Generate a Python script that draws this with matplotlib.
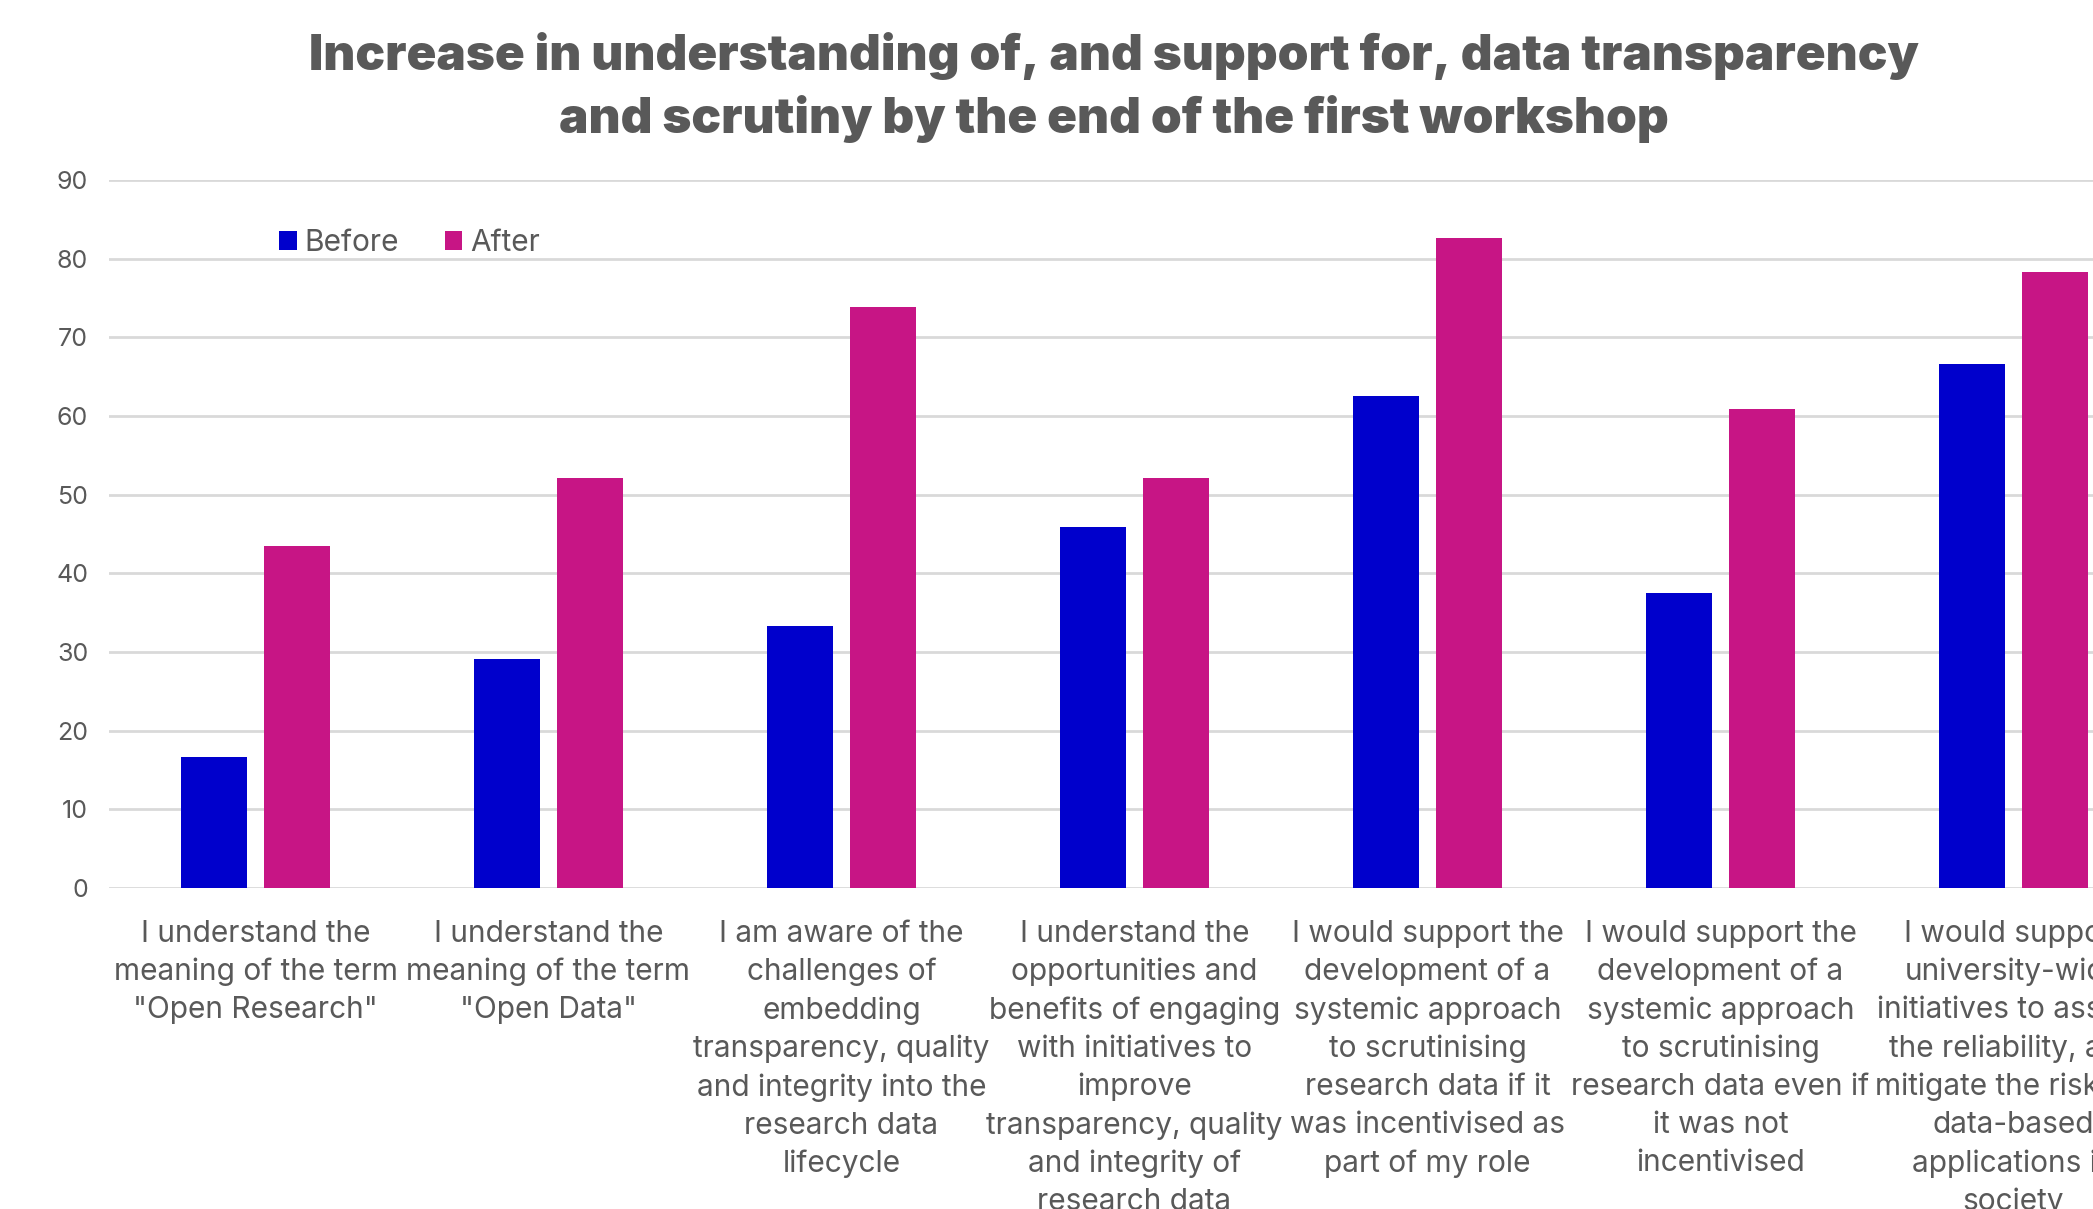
import matplotlib.pyplot as plt
import numpy as np

# chart data
categories = [
    'I understand the\nmeaning of the term\n"Open Research"',
    'I understand the\nmeaning of the term\n"Open Data"',
    'I am aware of the\nchallenges of\nembedding\ntransparency, quality\nand integrity into the\nresearch data\nlifecycle',
    'I understand the\nopportunities and\nbenefits of engaging\nwith initiatives to\nimprove\ntransparency, quality\nand integrity of\nresearch data',
    'I would support the\ndevelopment of a\nsystemic approach\nto scrutinising\nresearch data if it\nwas incentivised as\npart of my role',
    'I would support the\ndevelopment of a\nsystemic approach\nto scrutinising\nresearch data even if\nit was not\nincentivised',
    'I would support\nuniversity-wide\ninitiatives to assess\nthe reliability, and\nmitigate the risks of\ndata-based\napplications in\nsociety',
]
before = [16.67, 29.17, 33.33, 45.83, 62.5, 37.5, 66.67]
after = [43.48, 52.17, 73.91, 52.17, 82.61, 60.87, 78.26]
yticks = [0, 10, 20, 30, 40, 50, 60, 70, 80, 90]

BLUE = '#0000CC'
PINK = '#C71585'
GREY = '#595959'
FONT = ['Inter', 'DejaVu Sans']

plt.rcParams['font.family'] = FONT

W, H = 2093, 1209
fig = plt.figure(figsize=(W / 100, H / 100), dpi=100)
# axes run past the right edge of the picture, as in the cropped original
ax = fig.add_axes([109 / W, 1 - 888 / H, 7 * 293 / W, (888 - 180) / H])

x = np.arange(len(categories))
bw = 0.225
ax.bar(x - 0.1416, before, bw, color=BLUE, label='Before', zorder=3)
ax.bar(x + 0.1416, after, bw, color=PINK, label='After', zorder=3)

ax.set_xlim(-0.5, len(categories) - 0.5)
ax.set_ylim(0, 90)
ax.set_yticks(yticks)
ax.grid(axis='y', color='#d9d9d9', linewidth=2, zorder=0)
ax.set_axisbelow(True)
for s in ax.spines.values():
    s.set_visible(False)

ax.tick_params(axis='y', length=0, pad=15, labelsize=18, labelcolor=GREY)
ax.set_xticks(x)
ax.set_xticklabels(categories, fontsize=21.5, color=GREY, linespacing=1.445,
                   multialignment='center')
ax.tick_params(axis='x', length=0, pad=23)

ax.legend(loc='center left', bbox_to_anchor=(279 / W, 1 - 243 / H),
          bbox_transform=fig.transFigure, ncol=2, frameon=False,
          fontsize=21.5, labelcolor=GREY, handlelength=0.6, handleheight=0.6,
          handletextpad=0.25, columnspacing=1.53, borderpad=0, borderaxespad=0)

fig.text(1114 / W, 1 - 32 / H,
         'Increase in understanding of, and support for, data transparency\n'
         'and scrutiny by the end of the first workshop',
         ha='center', va='top', fontsize=35.5, fontweight='black',
         color=GREY, linespacing=1.39)

fig.savefig('out.png', dpi=100)
